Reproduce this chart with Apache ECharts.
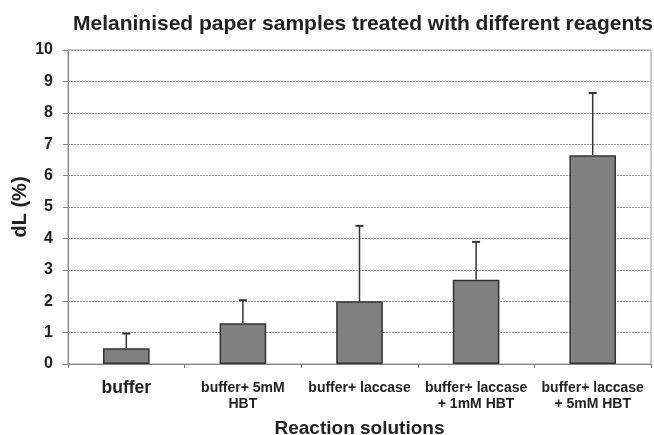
<!DOCTYPE html>
<html><head><meta charset="utf-8">
<script src="https://cdn.jsdelivr.net/npm/echarts@6/dist/echarts.min.js"></script>
<style>html,body{margin:0;padding:0;background:#fff}#c{width:654px;height:435px}</style>
</head><body><div id="c"></div>
<script>
var categories = ['buffer', 'buffer+ 5mM\nHBT', 'buffer+ laccase', 'buffer+ laccase\n+ 1mM HBT', 'buffer+ laccase\n+ 5mM HBT'];
var values = [0.5, 1.3, 2.0, 2.68, 6.65];
var errors = [0.47, 0.73, 2.4, 1.21, 1.98];
var yTicks = [0, 1, 2, 3, 4, 5, 6, 7, 8, 9, 10];

var chart = echarts.init(document.getElementById('c'));
var errData = values.map(function (v, i) { return [i, v, v + errors[i]]; });
var F = 'Liberation Sans, Arial, sans-serif';
chart.setOption({
  animation: false,
  backgroundColor: '#fff',
  title: {
    text: 'Melaninised paper samples treated with different reagents',
    left: 358, top: 9, textAlign: 'center',
    textStyle: { fontFamily: F, fontSize: 21, fontWeight: 'bold', color: '#222' }
  },
  grid: { left: 68, right: 3, top: 50, bottom: 71, show: true, borderColor: '#999', borderWidth: 1,
          containLabel: false, outerBoundsMode: 'none' },
  xAxis: {
    type: 'category', data: categories,
    name: 'Reaction solutions', nameLocation: 'middle', nameGap: 55, nameMoveOverlap: false,
    nameTextStyle: { fontFamily: F, fontSize: 19, fontWeight: 'bold', color: '#222' },
    axisLine: { lineStyle: { color: '#888', width: 1 } },
    axisTick: { show: true, length: 4, lineStyle: { color: '#777' } },
    axisLabel: {
      interval: 0, margin: 16, lineHeight: 16,
      fontFamily: F, fontSize: 14, fontWeight: 'bold', color: '#222',
      formatter: function (v, i) { return i === 0 ? '{big|' + v + '}' : v; },
      rich: { big: { fontSize: 17.5, fontWeight: 'bold', fontFamily: F, color: '#222' } }
    }
  },
  yAxis: {
    type: 'value', min: 0, max: 10, interval: 1,
    name: 'dL (%)', nameLocation: 'middle', nameGap: 38, nameRotate: 90, nameMoveOverlap: false,
    nameTextStyle: { fontFamily: F, fontSize: 20, fontWeight: 'bold', color: '#222' },
    axisLine: { show: true, lineStyle: { color: '#888', width: 1 } },
    axisTick: { show: true, length: 5, lineStyle: { color: '#888' } },
    axisLabel: {
      margin: 15, fontFamily: F, fontSize: 16, fontWeight: 'bold', color: '#222',
      formatter: function (v) { return yTicks.indexOf(v) >= 0 ? String(v) : ''; }
    },
    splitLine: { show: true, lineStyle: { color: '#999', type: [2, 1], width: 1 } }
  },
  series: [
    {
      type: 'bar', data: values, barWidth: '40%',
      itemStyle: { color: '#808080', borderColor: '#333', borderWidth: 1.5 }
    },
    {
      type: 'custom', data: errData, z: 1,
      renderItem: function (params, api) {
        var x = api.value(0);
        var base = api.coord([x, api.value(1)]);
        var top = api.coord([x, api.value(2)]);
        var hw = 4;
        return {
          type: 'group',
          children: [
            { type: 'line', shape: { x1: base[0], y1: base[1], x2: top[0], y2: top[1] }, style: { stroke: '#333', lineWidth: 1.5 } },
            { type: 'line', shape: { x1: top[0] - hw, y1: top[1], x2: top[0] + hw, y2: top[1] }, style: { stroke: '#333', lineWidth: 2 } }
          ]
        };
      }
    }
  ]
});
</script></body></html>
